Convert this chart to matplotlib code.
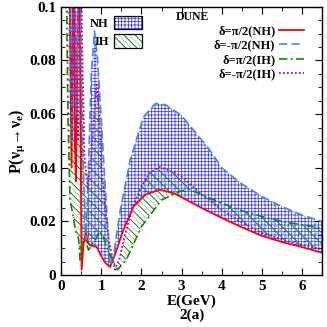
import numpy as np
import matplotlib
matplotlib.use('Agg')
import matplotlib.pyplot as plt
from matplotlib.patches import Patch
from matplotlib.legend_handler import HandlerTuple
from matplotlib.ticker import MultipleLocator

plt.rcParams['font.family'] = ['Liberation Serif', 'DejaVu Serif']
plt.rcParams['font.weight'] = 'bold'
plt.rcParams['mathtext.fontset'] = 'custom'
plt.rcParams['mathtext.rm'] = 'Liberation Serif:bold'
plt.rcParams['mathtext.it'] = 'Liberation Serif:bold'
plt.rcParams['mathtext.bf'] = 'Liberation Serif:bold'
plt.rcParams['hatch.linewidth'] = 0.55

# delta = pi/2, NH (red solid)
e_red = [0.2, 0.26, 0.3, 0.34, 0.37, 0.41, 0.45, 0.48, 0.51, 0.56, 0.62, 0.66, 0.75, 0.89,
         1.0, 1.1, 1.22, 1.35, 1.55, 1.8, 2.1, 2.46, 2.8, 3.0, 3.5, 4.0, 4.5, 5.0, 5.5, 6.0, 6.5]
p_red = [0.12, 0.04, 0.14, 0.05, 0.035, 0.09, 0.14, 0.06, 0.002, 0.012, 0.0157, 0.012, 0.011, 0.0104,
         0.007, 0.0045, 0.003, 0.008, 0.0168, 0.0255, 0.030, 0.0318, 0.0305, 0.029, 0.025, 0.0213,
         0.0178, 0.0146, 0.0123, 0.0104, 0.0083]

# delta = -pi/2, NH (blue dashed)
e_blue = [0.2, 0.28, 0.33, 0.38, 0.42, 0.46, 0.5, 0.55, 0.62, 0.68, 0.75, 0.83, 0.9, 1.0, 1.07,
          1.15, 1.22, 1.3, 1.47, 1.72, 2.05, 2.35, 2.6, 3.0, 3.3, 3.7, 4.0, 4.5, 5.0, 5.5, 6.0, 6.5]
p_blue = [0.12, 0.05, 0.14, 0.06, 0.11, 0.14, 0.08, 0.04, 0.013, 0.04, 0.075, 0.091, 0.082, 0.058, 0.04,
          0.02, 0.0037, 0.0069, 0.024, 0.043, 0.059, 0.064, 0.0635, 0.0595, 0.054, 0.0467, 0.040,
          0.034, 0.0293, 0.0255, 0.0224, 0.0199]

# delta = pi/2, IH (green dash-dot)
e_green = [0.12, 0.17, 0.22, 0.3, 0.35, 0.43, 0.47, 0.52, 0.6, 0.68, 0.75, 0.85, 0.95, 1.05,
           1.2, 1.4, 1.62, 2.0, 2.5, 3.0, 3.2, 3.5, 4.0, 4.5, 5.0, 5.5, 6.0, 6.5]
p_green = [0.12, 0.06, 0.028, 0.022, 0.0168, 0.014, 0.0056, 0.012, 0.013, 0.0093, 0.011, 0.013, 0.0164,
           0.014, 0.008, 0.0019, 0.0056, 0.018, 0.028, 0.0314, 0.0318, 0.030, 0.0268, 0.024,
           0.0218, 0.020, 0.0187, 0.0175]

# delta = -pi/2, IH (purple dotted)
e_purple = [0.2, 0.27, 0.33, 0.37, 0.42, 0.47, 0.52, 0.58, 0.66, 0.75, 0.88, 0.95, 1.0, 1.1, 1.2,
            1.34, 1.45, 1.6, 1.8, 2.0, 2.2, 2.45, 2.7, 3.0, 3.5, 4.0, 4.5, 5.0, 5.5, 6.0, 6.5]
p_purple = [0.13, 0.05, 0.13, 0.07, 0.05, 0.14, 0.09, 0.045, 0.032, 0.045, 0.071, 0.06, 0.04, 0.025,
            0.012, 0.002, 0.006, 0.0157, 0.026, 0.033, 0.038, 0.0403, 0.039, 0.0368, 0.030, 0.0243,
            0.0195, 0.0157, 0.0132, 0.0112, 0.0096]

labels = ['\u03b4=\u03c0/2(NH)', '\u03b4=-\u03c0/2(NH)', '\u03b4=\u03c0/2(IH)', '\u03b4=-\u03c0/2(IH)']

fig = plt.figure(figsize=(3.27, 3.27), dpi=100)
ax = fig.add_axes([0.187, 0.159, 0.798, 0.820])

# bands need a common grid
grid = np.unique(np.concatenate([e_red, e_blue, e_green, e_purple]))
nh_lo = np.interp(grid, e_red, p_red)
nh_hi = np.interp(grid, e_blue, p_blue)
ih_lo = np.interp(grid, e_green, p_green)
ih_hi = np.interp(grid, e_purple, p_purple)
ax.fill_between(grid, nh_lo, nh_hi, facecolor='none', edgecolor='#3a3aff',
                hatch='+++++', linewidth=0)
ax.fill_between(grid, ih_lo, ih_hi, facecolor='none', edgecolor='#8ccc8c',
                hatch='\\\\\\\\\\\\', linewidth=0)
ax.fill_between(grid, ih_lo, ih_hi, facecolor='none', edgecolor='#156515',
                hatch='\\\\\\', linewidth=0)

l1, = ax.plot(e_red, p_red, color='#ff0000', lw=1.3, ls='-')
l2, = ax.plot(e_blue, p_blue, color='#4a8ad0', lw=1.2, ls=(0, (5, 2.5)))
l3, = ax.plot(e_green, p_green, color='#0a8a0a', lw=1.2, ls=(0, (5, 2, 1.2, 2)))
l4, = ax.plot(e_purple, p_purple, color='#a010b0', lw=1.3, ls=(0, (1, 1.2)))

ax.set_xlim(0, 6.5)
ax.set_ylim(0, 0.1)
ax.xaxis.set_major_locator(MultipleLocator(1))
ax.xaxis.set_minor_locator(MultipleLocator(0.5))
ax.yaxis.set_minor_locator(MultipleLocator(0.005))
ax.set_yticks([0, 0.02, 0.04, 0.06, 0.08, 0.1])
ax.set_yticklabels(['0', '0.02', '0.04', '0.06', '0.08', '0.1'])
ax.tick_params(which='both', direction='in', top=True, right=True, labelsize=11)
ax.tick_params(which='major', length=5, width=0.8)
ax.tick_params(which='minor', length=3, width=0.6)
for s in ax.spines.values():
    s.set_linewidth(1.0)

ax.set_xlabel('E(GeV)\n2(a)', fontsize=11, fontweight='bold', linespacing=1.1, labelpad=1)
ax.set_ylabel(r'$\mathrm{P(\nu_{\mu}\!\rightarrow\!\nu_{e})}$', fontsize=11.5, labelpad=2)

ax.text(0.44, 0.963, 'DUNE', transform=ax.transAxes, fontsize=8.5, fontweight='bold',
        va='center', ha='left')

leg1 = ax.legend([l1, l2, l3, l4], labels, loc='upper right', bbox_to_anchor=(0.955, 0.955),
                 frameon=False, markerfirst=False, fontsize=9, handlelength=2.0,
                 handletextpad=0.3, labelspacing=0.2, borderpad=0)
ax.add_artist(leg1)

nh = (Patch(facecolor='white', edgecolor='#3a3aff', hatch='+++++', lw=0),
      Patch(fill=False, edgecolor='black', lw=0.9))
ih = (Patch(facecolor='white', edgecolor='#8ccc8c', hatch='\\\\\\\\\\\\', lw=0),
      Patch(fill=False, edgecolor='#156515', hatch='\\\\\\', lw=0),
      Patch(fill=False, edgecolor='black', lw=0.9))
ax.legend([nh, ih], ['NH', 'IH'], loc='upper right', bbox_to_anchor=(0.335, 0.99),
          frameon=False, markerfirst=False, fontsize=9, handlelength=2.3, handleheight=1.3,
          handletextpad=0.4, labelspacing=0.35, borderpad=0,
          handler_map={tuple: HandlerTuple(ndivide=1, pad=0)})

fig.savefig('out.png', dpi=100)
